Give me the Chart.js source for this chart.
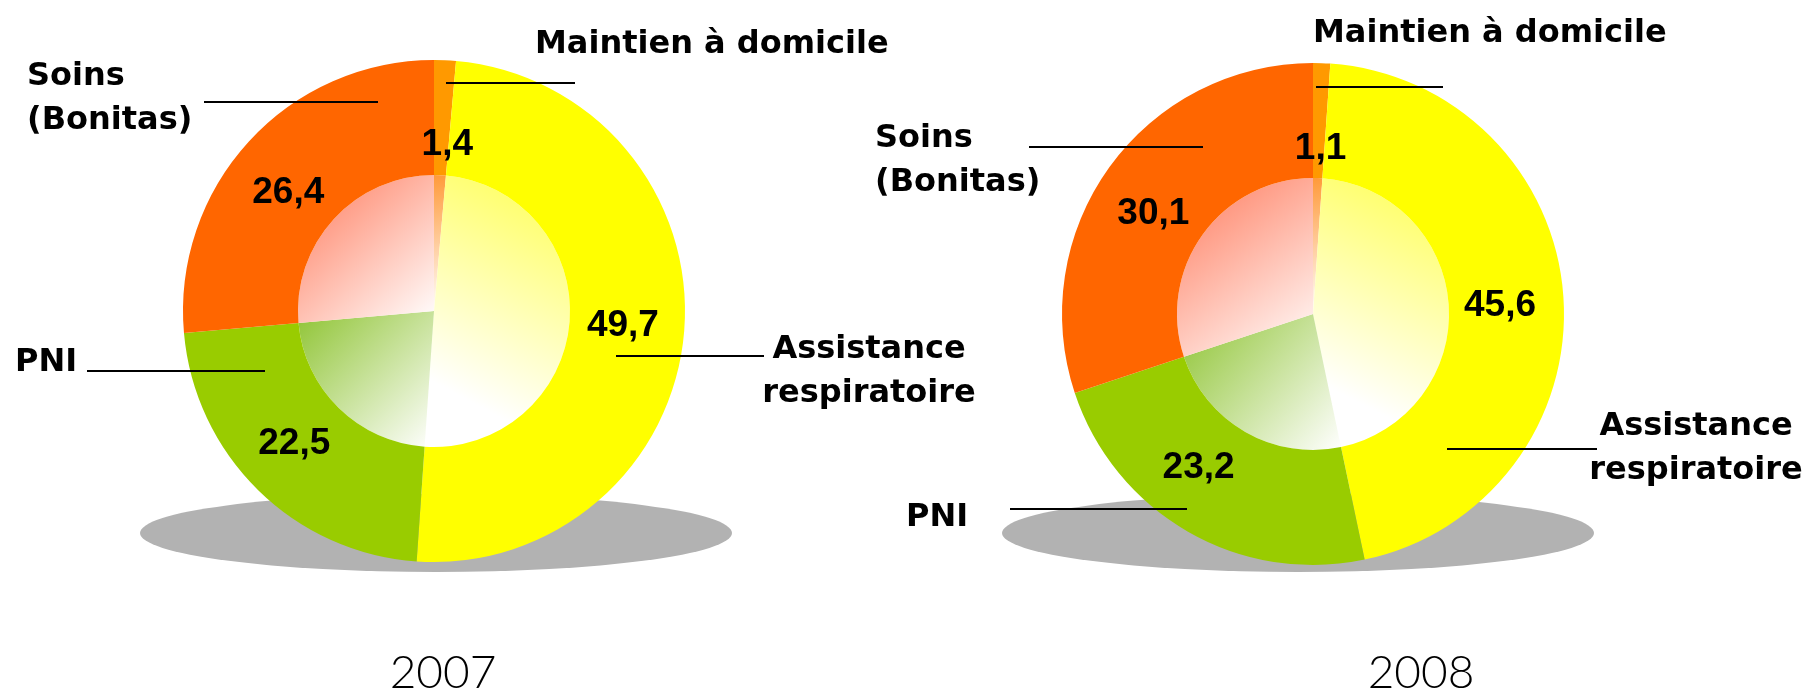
<!DOCTYPE html>
<html>
<head>
<meta charset="utf-8">
<script src="https://cdn.jsdelivr.net/npm/chart.js@4.4.1/dist/chart.umd.min.js"></script>
<style>
html, body { margin: 0; padding: 0; background: #fff; }
#wrap { position: relative; width: 1807px; height: 691px; overflow: hidden; }
#wrap canvas { position: absolute; left: 0; top: 0; }
</style>
</head>
<body>
<div id="wrap">
  <canvas id="chart2007" width="1807" height="691"></canvas>
  <canvas id="chart2008" width="1807" height="691"></canvas>
</div>
<script>
// data (percent)
const labelLines = [['Maintien à domicile'], ['Assistance', 'respiratoire'], ['PNI'], ['Soins', '(Bonitas)']];
const categories = labelLines.map(l => l.join(' '));
const years = ['2007', '2008'];
const values2007 = [1.4, 49.7, 22.5, 26.4];
const values2008 = [1.1, 45.6, 23.2, 30.1];

const sliceColors = ['#FF9900', '#FFFF00', '#99CC00', '#FF6600'];
const innerStart = ['#FF9A3A', '#FFFF50', '#8FC434', '#FF7A5C'];
const innerWhiteAt = [1, 0.8, 1, 1];
const innerDir = ['tlbr', 'trbl', 'tlbr', 'tlbr'];
const outerWeight = 115, innerWeight = 136;

const W = 1807, H = 691;
const fmt = v => v.toFixed(1).replace('.', ',');

const layouts = [
    {
        cx: 434, cy: 311, r: 251,
        shadow: { dx: 2, dy: 222, rx: 296, ry: 39 },
        valueNudge: [[5, 20], [0, -3], [-7, -5], [-6, 7]],
        labels: [
            { x: 101, y: -258, align: 'left', line: [12, 141, -228] },
            { x: 435, y: 47, align: 'center', line: [182, 330, 45] },
            { x: -419, y: 60, align: 'left', line: [-347, -169, 60] },
            { x: -407, y: -226, align: 'left', line: [-230, -56, -209] }
        ],
        year: { x: 9, y: 377 }
    },
    {
        cx: 1313, cy: 314, r: 251,
        shadow: { dx: -15, dy: 219, rx: 296, ry: 39 },
        valueNudge: [[1, 21], [-2, 2], [-20, -13], [-6, 8]],
        labels: [
            { x: 0, y: -272, align: 'left', line: [3, 130, -227] },
            { x: 383, y: 121, align: 'center', line: [134, 284, 135] },
            { x: -407, y: 212, align: 'left', line: [-303, -126, 195] },
            { x: -438, y: -167, align: 'left', line: [-284, -110, -167] }
        ],
        year: { x: 108, y: 374 }
    }
];

function innerGradient(context, values) {
    const i = context.dataIndex;
    const chart = context.chart;
    const area = chart.chartArea;
    if (!area) return innerStart[i];
    const cx = (area.left + area.right) / 2, cy = (area.top + area.bottom) / 2;
    const r = Math.min(area.width, area.height) / 2 * innerWeight / (innerWeight + outerWeight);
    const total = values.reduce((s, v) => s + v, 0);
    let cum = 0;
    for (let k = 0; k < i; k++) cum += values[k];
    const a0 = -Math.PI / 2 + 2 * Math.PI * cum / total;
    const a1 = a0 + 2 * Math.PI * values[i] / total;
    const xs = [cx], ys = [cy];
    [a0, a1].forEach(a => { xs.push(cx + r * Math.cos(a)); ys.push(cy + r * Math.sin(a)); });
    for (let q = -2; q <= 4; q++) {
        const a = q * Math.PI / 2;
        if (a > a0 && a < a1) { xs.push(cx + r * Math.cos(a)); ys.push(cy + r * Math.sin(a)); }
    }
    const L = Math.min(...xs), R = Math.max(...xs), T = Math.min(...ys), B = Math.max(...ys);
    const g = innerDir[i] === 'trbl'
        ? chart.ctx.createLinearGradient(R, T, L, B)
        : chart.ctx.createLinearGradient(L, T, R, B);
    g.addColorStop(0, innerStart[i]);
    g.addColorStop(innerWhiteAt[i], '#FFFFFF');
    return g;
}

const decorPlugin = {
    id: 'decor',
    beforeDatasetsDraw(chart, args, o) {
        const arc = chart.getDatasetMeta(0).data[0];
        const ctx = chart.ctx;
        ctx.save();
        ctx.fillStyle = '#B2B2B2';
        ctx.beginPath();
        ctx.ellipse(arc.x + o.shadow.dx, arc.y + o.shadow.dy, o.shadow.rx, o.shadow.ry, 0, 0, Math.PI * 2);
        ctx.fill();
        ctx.restore();
    },
    afterDatasetsDraw(chart, args, o) {
        const ctx = chart.ctx;
        const arcs = chart.getDatasetMeta(0).data;
        const values = chart.data.datasets[0].data;
        const cx = arcs[0].x, cy = arcs[0].y;
        const ringMid = (arcs[0].outerRadius + arcs[0].innerRadius) / 2 - 4;
        ctx.save();
        ctx.fillStyle = '#000';

        // values in the ring
        ctx.font = 'bold 37px "Liberation Sans", Arial, sans-serif';
        ctx.textAlign = 'center';
        ctx.textBaseline = 'alphabetic';
        arcs.forEach((a, i) => {
            const mid = (a.startAngle + a.endAngle) / 2;
            const x = cx + Math.cos(mid) * ringMid + o.valueNudge[i][0];
            const y = cy + Math.sin(mid) * ringMid + o.valueNudge[i][1] + 13;
            ctx.fillText(fmt(values[i]), x, y);
        });

        // category names and leader lines
        ctx.font = 'bold 32px "DejaVu Sans", sans-serif';
        o.labels.forEach((lab, i) => {
            ctx.textAlign = lab.align;
            labelLines[i].forEach((t, j) => ctx.fillText(t, cx + lab.x, cy + lab.y + j * 44));
            ctx.strokeStyle = '#000';
            ctx.lineWidth = 2;
            ctx.beginPath();
            ctx.moveTo(cx + lab.line[0], cy + lab.line[2]);
            ctx.lineTo(cx + lab.line[1], cy + lab.line[2]);
            ctx.stroke();
        });

        // year under the chart
        ctx.font = '300 46px Lato, "Open Sans", sans-serif';
        ctx.textAlign = 'center';
        ctx.fillText(o.yearText, cx + o.year.x, cy + o.year.y);
        ctx.restore();
    }
};

function makeChart(id, values, lay, yearText) {
    const ctx = document.getElementById(id).getContext('2d');
    return new Chart(ctx, {
        type: 'doughnut',
        data: {
            labels: categories,
            datasets: [
                { data: values, backgroundColor: sliceColors, borderWidth: 0, weight: outerWeight },
                { data: values, backgroundColor: c => innerGradient(c, values), borderWidth: 0, weight: innerWeight }
            ]
        },
        options: {
            responsive: false,
            animation: false,
            events: [],
            cutout: 0,
            layout: {
                padding: { left: lay.cx - lay.r, top: lay.cy - lay.r, right: W - lay.cx - lay.r, bottom: H - lay.cy - lay.r }
            },
            plugins: {
                legend: { display: false },
                tooltip: { enabled: false },
                decor: Object.assign({ yearText: yearText }, lay)
            }
        },
        plugins: [decorPlugin]
    });
}

makeChart('chart2007', values2007, layouts[0], years[0]);
makeChart('chart2008', values2008, layouts[1], years[1]);
</script>
</body>
</html>
